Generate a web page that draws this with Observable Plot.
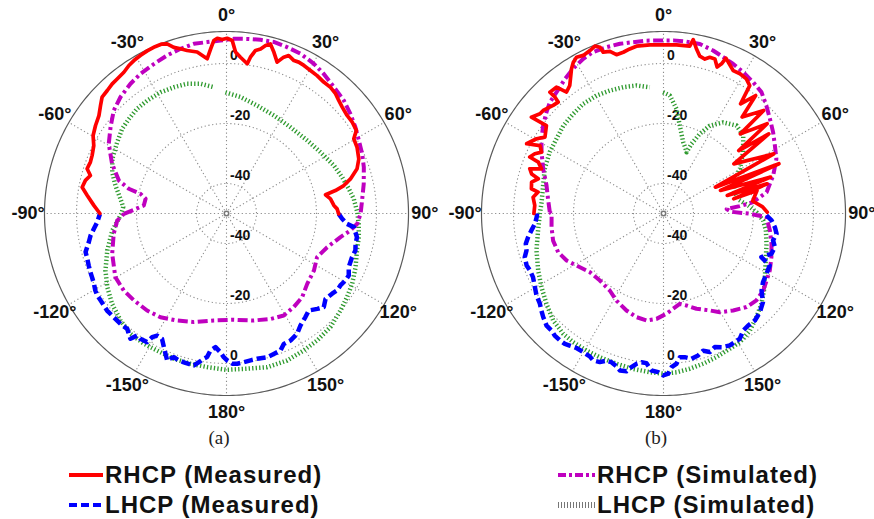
<!DOCTYPE html>
<html><head><meta charset="utf-8">
<script src="https://cdn.jsdelivr.net/npm/d3@7"></script>
<script src="https://cdn.jsdelivr.net/npm/@observablehq/plot@0.6"></script>
<style>
body{margin:0;background:#fff;}
#wrap{width:874px;height:519px;position:relative;overflow:hidden;background:#fff;}
#chart{position:absolute;left:0;top:0;}
.leg{position:absolute;display:flex;align-items:center;height:30px;line-height:30px;font-family:"Liberation Sans",Arial,sans-serif;font-weight:bold;font-size:24px;letter-spacing:1px;color:#111;white-space:nowrap;}
.leg svg{display:block;margin-right:2px;}
</style></head>
<body><div id="wrap"><div id="chart"></div>
<div class="leg" style="left:69px;top:460px"><svg width="34" height="30"><line x1="0" y1="15" x2="34" y2="15" stroke="#ff0000" stroke-width="4"/></svg><span>RHCP (Measured)</span></div>
<div class="leg" style="left:69px;top:490px"><svg width="34" height="30"><line x1="0" y1="15" x2="34" y2="15" stroke="#0000ff" stroke-width="4" stroke-dasharray="8,4"/></svg><span>LHCP (Measured)</span></div>
<div class="leg" style="left:558px;top:460px"><svg width="37" height="30"><line x1="0" y1="15" x2="37" y2="15" stroke="#bf00bf" stroke-width="4" stroke-dasharray="8,3,3,3"/></svg><span>RHCP (Simulated)</span></div>
<div class="leg" style="left:558px;top:490px"><svg width="37" height="30"><line x1="0" y1="15" x2="37" y2="15" stroke="#777" stroke-width="6" stroke-dasharray="1,2"/></svg><span>LHCP (Simulated)</span></div>
</div>
<script>
// ---------- chart values ----------
const panels = ["a", "b"];
const gridDb = [-40, -20, 0];
const spokeAngles = [0, 30, 60, 90, 120, 150, 180, 210, 240, 270, 300, 330];
const angleTickValues = [0, 30, 60, 90, 120, 150, 180, -150, -120, -90, -60, -30];
const centerDb = -50;   // dB value at the centre of each polar plot
const outerDb = 10.67;  // dB value of the outer ring
const labelDb = 16.1;   // ring on which the angle labels sit

// Panel (a): [angle in degrees clockwise from top, dB]
const rhcpMeasA = [[-90,-7.8],[-86.5,-5.7],[-82.6,-3.2],[-79.7,-1.1],[-76.8,-1.7],[-74.4,-2.9],[-72.2,-1.2],[-69.3,-1.5],[-66.6,-1.2],[-62.9,-0.3],[-59.7,1.5],[-56.1,2.6],[-52.5,3.6],[-49.4,5.3],[-46.9,6.8],[-44.1,7.1],[-41.4,7.6],[-39.1,7.8],[-36,8.2],[-33.4,9.1],[-31.2,9.6],[-28.6,10],[-26,10.3],[-23.2,10.5],[-21.1,10.5],[-19.3,9.9],[-17.6,8.1],[-15.6,7],[-13.6,5.9],[-10.3,4.7],[-7.1,2],[-5.5,5.1],[-4.2,7.8],[-3,8.5],[-1.4,8],[0.2,8.4],[1.9,7.7],[3.2,3.9],[5.1,2.3],[7.9,0.4],[8.7,2.7],[10.1,5.2],[11.7,6],[13.1,7.5],[14.5,8.4],[16.4,6],[18.5,3.2],[20.1,5.5],[21.5,6.6],[23.8,5.7],[25.5,5.9],[27.6,5.7],[30.4,5.3],[33.3,5],[36.5,4.5],[39.5,4.5],[42.3,4],[44.8,3.1],[47.4,2.4],[50.9,1.8],[54,1.8],[57.4,1.4],[59.6,-0.8],[63.1,-1.2],[67.6,-2.3],[71.1,-4],[74.4,-7.1],[76.6,-9.8],[78.1,-12.9],[79.3,-16.4],[82,-15],[85.7,-14.1],[87.6,-13.1],[90.2,-12.6]];
const lhcpMeasA = [[90.2,-12.6],[92.6,-11.4],[94.9,-9.7],[96.1,-7.3],[98.2,-6.6],[100.3,-5.8],[103.2,-5.8],[106,-5.3],[109.2,-5.7],[113.7,-5.5],[116.9,-4.3],[119.4,-4.5],[122.3,-5.1],[124.8,-5.1],[127.2,-5.8],[130.8,-6.4],[133.9,-5],[136.4,-6.1],[139.7,-7.6],[142.7,-6.6],[146.5,-5.3],[149.6,-3.5],[153.3,-2.6],[156.3,-2.5],[158.5,-0.9],[161.4,-0.6],[164.2,-0.2],[168.1,-0.5],[170.7,-0.4],[173.4,-0.1],[175.9,0.2],[177.8,0.1],[179.7,-1],[181.1,-2.1],[182.5,-3.7],[184.7,-5.3],[186.7,-4],[187.7,-1.7],[188.9,-1],[190.5,0.4],[192.1,1.8],[194.1,1.7],[196,1.6],[198,1.5],[200.1,1],[201.6,2.1],[202,2.8],[203.5,1],[205.1,-0.8],[207.2,-3],[209.6,-3.2],[211,-1.9],[211.7,0.4],[214.5,0.7],[216.2,0.4],[217.5,2.6],[219.1,1.7],[220.7,0.7],[223,1],[225.6,1],[228.3,1.1],[230.9,1.3],[233.1,1.1],[235.4,1],[237.6,1],[239.6,0.7],[242.1,0],[244.6,-0.4],[246.7,-0.6],[249.3,-0.9],[252,-1.2],[254.7,-1.3],[256.4,-2.2],[258.2,-3.1],[260.8,-4.1],[263.4,-5.5],[266.2,-6.8],[269.8,-7.8]];
const rhcpSimA = [[-90.2,-15.8],[-87.7,-19.1],[-84.5,-22.3],[-79.7,-22.6],[-77.1,-20.6],[-75.8,-16.4],[-73,-12.5],[-66.5,-8.4],[-59.4,-4.4],[-53.3,-1.8],[-47.6,0.9],[-42.3,2.5],[-36.5,3.8],[-31.6,4.7],[-25.9,5.4],[-20.6,6.3],[-15.6,7],[-10.9,7.6],[-6.4,7.5],[-2,7.7],[2.4,8.3],[6.7,8.6],[11.1,9],[15.4,9.3],[20,9],[24.9,8.7],[30.3,7.8],[34.9,6.7],[40.3,5.3],[46.1,4.3],[51.2,3],[56.2,1.7],[61.1,0.4],[66.3,-0.6],[71.4,-1.7],[77.8,-3.2],[84.5,-4.6],[90.1,-5.3],[94.5,-6.3],[97.8,-8.3],[101.7,-11.2],[108.5,-14.6],[115.7,-16.5],[123.1,-15.2],[131.1,-14.3],[137.9,-12.4],[144.3,-11.6],[150.7,-11],[157.3,-11.9],[165.7,-13.2],[176.1,-14.5],[186.8,-14.1],[196.7,-12.2],[204.8,-10.7],[212.5,-9],[219.3,-8.2],[226.8,-7.7],[233.1,-7.2],[240.2,-7.3],[250.6,-9.6],[259.8,-11.8],[266.3,-13.5]];
const lhcpSimA = [[-0.5,-9.6],[6.9,-10.9],[15.9,-12.6],[25.8,-13.7],[36.6,-14.2],[47.9,-13.7],[56.9,-12.6],[65.9,-10.8],[72.6,-9.6],[78.6,-8.4],[83.4,-7.3],[89.4,-6.4],[94.5,-5.8],[100.1,-5.2],[105.8,-4.8],[112.6,-3.4],[119.2,-2],[124.7,-1.1],[130.4,-0.1],[137.5,1.3],[144.5,2],[150.6,2.4],[157.6,3],[165.2,3],[172.4,2.2],[180,2.1],[187.2,1.6],[193.5,1.5],[199.9,1.5],[206.8,1.2],[212.4,1.4],[218.6,1.3],[224.7,0.2],[231.7,-1.4],[238.3,-3.3],[244.8,-5.4],[252.8,-8.4],[261.5,-11.5],[270,-15],[273.6,-15.5],[277.9,-14.3],[284.2,-11.8],[289.9,-9.5],[295.6,-7.8],[303.1,-6.5],[309.1,-5.2],[314.1,-4.7],[319.5,-4.1],[324.9,-4],[331.5,-4],[337.4,-4.4],[343.1,-4.8],[348.7,-5.9],[354.3,-7.7]];

// Panel (b)
const rhcpMeasB = [[-90,-6.8],[-86.4,-7],[-82.9,-6.2],[-80.3,-7.6],[-79.4,-5.2],[-76.6,-4.8],[-74.5,-6.7],[-73.3,-4.1],[-71.5,-3],[-69.9,-6.7],[-67.7,-4.9],[-67.1,-1.6],[-65.1,-2.7],[-63.3,-4.5],[-61.2,-3],[-63,1.2],[-59.5,-0.9],[-57.2,-3],[-53.1,-1.2],[-53.9,4.5],[-51.1,2.9],[-49.4,2.8],[-45.6,1.5],[-43.4,1.1],[-43,3.1],[-43.1,5.4],[-40.3,5.2],[-38.6,1.8],[-36.2,2.9],[-32.5,7.1],[-30.8,8.7],[-29.1,9.6],[-26.9,9.1],[-24.3,9.6],[-22.3,10.3],[-20.9,9.3],[-20.5,7.4],[-18.3,6.9],[-16.5,5.2],[-14,5.4],[-11.6,6],[-9.2,6.5],[-4.6,6.4],[-0.1,6.2],[4.4,6.4],[8.9,6.5],[9.7,8.8],[11.3,6],[13,3.8],[15,3.3],[16.5,4.3],[18.4,4.3],[20.1,2],[21.2,3.5],[21.9,5.8],[23.7,4.5],[26,3],[28.7,3.1],[31.6,2.7],[34,1.4],[35.1,-5.3],[38,-0.1],[39.2,-8.5],[44.2,-2.1],[44,-13.1],[49.1,-4.3],[50.1,-17.3],[52.9,-6],[54.8,-21.3],[61.6,-8.2],[63.1,-30.6],[66.7,-8.1],[68,-29.5],[71.2,-12.3],[74.2,-27.9],[74,-14.1],[78.2,-26.1],[76.2,-17.9],[82,-20],[86,-17],[89.3,-15.4]];
const lhcpMeasB = [[91.1,-15.7],[93.7,-13.9],[97,-12.6],[100.2,-11.7],[103.8,-12.4],[106.8,-11.2],[110.5,-11.6],[114,-14.3],[116.1,-10.6],[120.4,-10.2],[124.6,-9.7],[128.2,-8.4],[131.7,-5.6],[135.7,-4],[139.5,-3.1],[142.9,-3.2],[145.7,-2.8],[148.7,-1.1],[151,-1],[153.3,-0.8],[156.5,-1.4],[159,-2.3],[161.5,-1.3],[163.9,-2.4],[166.3,-1.3],[169.1,-0.7],[171.6,-1.6],[173.5,-1.8],[175.1,0.3],[177,1.3],[178.3,3.4],[180.1,4],[181.9,2.9],[184.4,2.5],[186.5,0.2],[188.4,0.1],[190.2,0.9],[191.8,2.3],[193.2,4],[195.5,4.3],[197.1,3.3],[199.3,2.5],[201.2,2.6],[203.2,3.9],[205.6,4.3],[207.3,3.6],[210.1,3.4],[212.9,3.4],[215.4,4],[217.1,4.5],[219.2,4.6],[221.7,4.5],[223.7,4],[226.2,4],[229.3,2.9],[231.5,2],[233.9,1],[237.1,0.4],[240.2,-0.6],[244,-1.6],[246.9,-1.6],[249.2,-1.2],[252.5,-1.5],[254.9,-2.7],[257.6,-3],[260.1,-4.2],[262.7,-5.6],[265.4,-7],[268.3,-7.7],[270,-7.9]];
const rhcpSimB = [[-89.3,-12.1],[-82.8,-11.2],[-76.5,-9.9],[-69.6,-7.2],[-63.3,-4.5],[-58.5,-2.3],[-53.8,-0.3],[-49.1,1.6],[-45.6,3],[-41.4,3.9],[-36.2,5.6],[-32,6.9],[-27.4,8.1],[-23.6,8.7],[-18.9,8.6],[-14.4,8.4],[-10,8],[-5.6,7.9],[-1.2,7.7],[3.2,7.8],[7.6,7.8],[12.1,7.8],[16.9,6.8],[20.9,5.8],[25,5],[29.4,4.1],[34.3,3],[38.9,2],[43.6,-0.3],[48.3,-2.5],[53.4,-4.5],[58.6,-6.5],[64.2,-8.2],[70.9,-11.3],[78.3,-14.9],[82.8,-19.9],[84.5,-24.5],[86,-28.9],[88.5,-27.5],[90.1,-21.5],[92,-15.7],[99,-14.1],[105.7,-12.6],[112,-11.2],[118.2,-9.8],[123,-9],[127.7,-8],[133.1,-7.6],[138.4,-8.3],[144.3,-10.2],[150.3,-12.1],[154.5,-14.2],[160.9,-16.4],[166,-18.4],[169.8,-19.4],[174.2,-18.1],[178.3,-16.6],[183.8,-14.8],[189,-13.9],[194.6,-14.3],[200.9,-15.4],[208.4,-17],[214.9,-18.7],[223.5,-19.2],[231.5,-18.6],[239.1,-16.2],[244.1,-14.1],[249.8,-12.6],[256.2,-12.1],[263,-12.4],[269.8,-12.7]];
const lhcpSimB = [[-0.2,-9.6],[3.1,-10.6],[7.1,-14.9],[10.5,-20.2],[15.4,-25.3],[18.5,-27],[20.6,-28.2],[21.9,-25],[24.5,-20.8],[27.8,-16.9],[33.2,-13.7],[39.7,-11.9],[45.6,-12.8],[52.4,-16.5],[59.7,-20.5],[65.8,-24.5],[73.3,-25.2],[79.6,-24.5],[84.9,-21.5],[89.2,-19],[94,-16.7],[99.4,-15.4],[106.4,-14.2],[114.7,-12.5],[122.1,-10.1],[127.5,-7.8],[132.7,-5.6],[138.1,-3.6],[143.6,-1.5],[149.3,-0.1],[153.9,0.2],[159.7,1],[165.2,1.8],[170.4,2.5],[175.3,3.1],[180,3.4],[184.9,3.1],[191,2.8],[197.4,2.5],[203.9,2.4],[209.3,2.4],[215.1,2.4],[219.8,2.2],[225.9,1.2],[232.3,-0.7],[238.9,-2.5],[245.5,-4.1],[253.8,-5.9],[262.3,-7.8],[270,-8.8],[275.3,-9.2],[283.1,-8.8],[290.6,-7.7],[298.4,-6.9],[304.9,-6.5],[311.3,-5.6],[317.8,-5.2],[323.8,-4.7],[330.4,-4.8],[336.4,-5.3],[342.3,-5.8],[348.1,-6.4],[353.8,-7.7]];

// ---------- build ----------
const deg = Math.PI / 180;
const polar = (a, db) => {
  const r = db - centerDb;
  return {x: r * Math.sin(a * deg), y: r * Math.cos(a * deg)};
};
function rows(panel, pts, closed) {
  const p = closed ? [...pts, pts[0]] : pts;
  return p.map(([a, db]) => ({panel, ...polar(a, db)}));
}
const ringRows = [];
for (const panel of panels) {
  for (const db of gridDb) for (let a = 0; a <= 360; a += 2) ringRows.push({panel, key: panel + db, ...polar(a, db)});
}
const outerRows = [];
for (const panel of panels) for (let a = 0; a <= 360; a += 1) outerRows.push({panel, ...polar(a, outerDb)});
const spokeRows = [];
for (const panel of panels) for (const a of spokeAngles) {
  const o = polar(a, centerDb), e = polar(a, outerDb);
  spokeRows.push({panel, x1: o.x, y1: o.y, x2: e.x, y2: e.y});
}
const angleLabelRows = [];
for (const panel of panels) for (const a of angleTickValues) angleLabelRows.push({panel, label: a + "°", ...polar(a, labelDb)});
const dbLabelRows = [];
for (const panel of panels) for (const db of gridDb) for (const a of [0, 180]) dbLabelRows.push({panel, label: String(db), ...polar(a, db)});
const centerRows = panels.map(panel => ({panel, ...polar(0, centerDb)}));

const series = [
  {a: lhcpSimA, b: lhcpSimB, closed: false, style: {stroke: "#2f9a2f", strokeWidth: 4.5, strokeDasharray: "1.3,2.2", strokeLinecap: "butt"}},
  {a: rhcpSimA, b: rhcpSimB, closed: true, style: {stroke: "#bf00bf", strokeWidth: 4, strokeDasharray: "10,3.5,3,3.5", strokeLinecap: "butt"}},
  {a: lhcpMeasA, b: lhcpMeasB, closed: false, style: {stroke: "#0000ff", strokeWidth: 4.5, strokeDasharray: "9,4", strokeLinecap: "butt"}},
  {a: rhcpMeasA, b: rhcpMeasB, closed: false, style: {stroke: "#ff0000", strokeWidth: 3.7, strokeLinejoin: "round"}}
];
const curveMarks = series.map(s => Plot.line(
  [...rows("a", s.a, s.closed), ...rows("b", s.b, s.closed)],
  {x: "x", y: "y", fx: "panel", z: "panel", ...s.style}
));

const chart = Plot.plot({
  width: 874, height: 450,
  marginTop: 0, marginRight: 0, marginBottom: 30, marginLeft: 0,
  style: {background: "white", color: "#222", fontFamily: "'Liberation Sans', Arial, sans-serif"},
  x: {domain: [-226 / 3, 211 / 3], axis: null},
  y: {domain: [-69, 71], axis: null},
  fx: {domain: panels, padding: 0},
  marks: [
    Plot.line(ringRows, {x: "x", y: "y", z: "key", fx: "panel", stroke: "#8c8c8c", strokeWidth: 1.1, strokeDasharray: "1.2,2.6", strokeLinecap: "butt"}),
    Plot.link(spokeRows, {x1: "x1", y1: "y1", x2: "x2", y2: "y2", fx: "panel", stroke: "#8c8c8c", strokeWidth: 1.1, strokeDasharray: "1.2,2.6", strokeLinecap: "butt"}),
    Plot.line(outerRows, {x: "x", y: "y", fx: "panel", stroke: "#5a5a5a", strokeWidth: 1.2}),
    Plot.dot(centerRows, {x: "x", y: "y", fx: "panel", r: 2.2, stroke: "#777", fill: "white"}),
    Plot.text(dbLabelRows, {x: "x", y: "y", fx: "panel", text: "label", textAnchor: "start", dx: 3.5, dy: -8, fontSize: 14, fontWeight: "bold", fill: "#111"}),
    ...curveMarks,
    Plot.text(angleLabelRows, {x: "x", y: "y", fx: "panel", text: "label", fontSize: 18, fontWeight: "bold", fill: "#111"}),
    Plot.axisFx({anchor: "bottom", tickFormat: d => `(${d})`, tickSize: 0, tickPadding: 10, label: null, fontSize: 19, fontFamily: "'Liberation Serif', 'Times New Roman', serif"})
  ]
});
document.getElementById("chart").appendChild(chart);
</script>
</body></html>
